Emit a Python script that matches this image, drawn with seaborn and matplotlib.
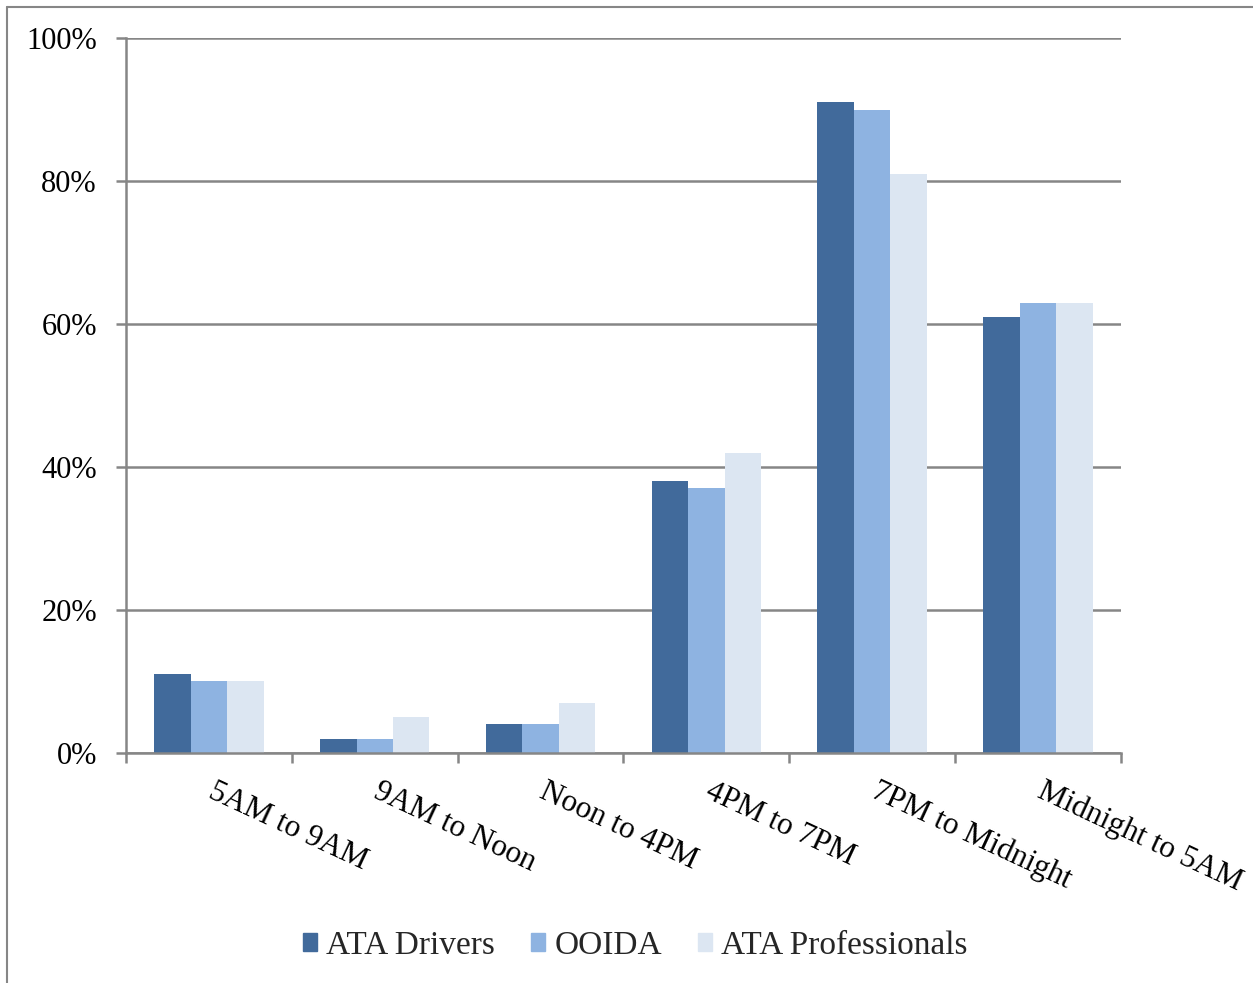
import pandas as pd
import seaborn as sns
import matplotlib.pyplot as plt
from matplotlib.patches import Rectangle
from matplotlib.ticker import PercentFormatter

# data
periods = ['5AM to 9AM', '9AM to Noon', 'Noon to 4PM',
           '4PM to 7PM', '7PM to Midnight', 'Midnight to 5AM']
ata_drivers = [11, 2, 4, 38, 91, 61]
ooida = [10, 2, 4, 37, 90, 63]
ata_professionals = [10, 5, 7, 42, 81, 63]
groups = ['ATA Drivers', 'OOIDA', 'ATA Professionals']
colors = ['#416A9B', '#8EB3E1', '#DCE6F2']

df = pd.DataFrame({
    'period': periods * 3,
    'group': [g for g in groups for _ in periods],
    'value': ata_drivers + ooida + ata_professionals,
})

sns.set_theme(style='white')
plt.rcParams['font.family'] = ['Liberation Serif', 'DejaVu Serif']

fig = plt.figure(figsize=(12.53, 9.83), dpi=100)
ax = fig.add_axes([0.1006, 0.234, 0.794, 0.7273])

sns.barplot(data=df, x='period', y='value', hue='group', order=periods,
            hue_order=groups, palette=colors, width=0.66, saturation=1,
            edgecolor='none', ax=ax)

grid_c = '#868686'
ax.set_ylim(0, 100)
ax.set_xlim(-0.5, len(periods) - 0.5)
ax.set_yticks(range(0, 101, 20))
ax.yaxis.set_major_formatter(PercentFormatter(decimals=0))
ax.yaxis.grid(True, color=grid_c, linewidth=1.8)
ax.set_axisbelow(True)
for side in ['top', 'right']:
    ax.spines[side].set_visible(False)
for side in ['left', 'bottom']:
    ax.spines[side].set_color(grid_c)
    ax.spines[side].set_linewidth(1.8)

ax.tick_params(axis='y', left=True, length=7, width=1.8, color=grid_c,
               labelsize=22, pad=14, labelcolor='black')
# ticks on category boundaries, labels on centers
ax.set_xticks([i - 0.5 for i in range(len(periods) + 1)])
ax.set_xticklabels([])
ax.tick_params(axis='x', bottom=True, length=7, width=1.8, color=grid_c)
for i, p in enumerate(periods):
    ax.annotate(p, xy=(i, 0), xycoords=('data', 'axes fraction'),
                xytext=(5, -17), textcoords='offset points',
                rotation=-25, rotation_mode='anchor', ha='left', va='top',
                fontsize=22.5, color='black')

ax.set_xlabel('')
ax.set_ylabel('')
ax.legend_.remove()
handles = [Rectangle((0, 0), 1, 1, color=c) for c in colors]
fig.legend(handles, groups, loc='center', bbox_to_anchor=(0.507, 0.038),
           ncol=3, frameon=False, fontsize=24, handlelength=0.42,
           handleheight=0.42, handletextpad=0.27, columnspacing=1.1)

# outer frame seen at the left and top edges
fig.add_artist(plt.Line2D([0.0056, 0.0056], [0, 0.993], color=grid_c,
                          linewidth=1.5, transform=fig.transFigure))
fig.add_artist(plt.Line2D([0.0056, 1], [0.993, 0.993], color=grid_c,
                          linewidth=1.5, transform=fig.transFigure))

fig.savefig('out.png', dpi=100)
